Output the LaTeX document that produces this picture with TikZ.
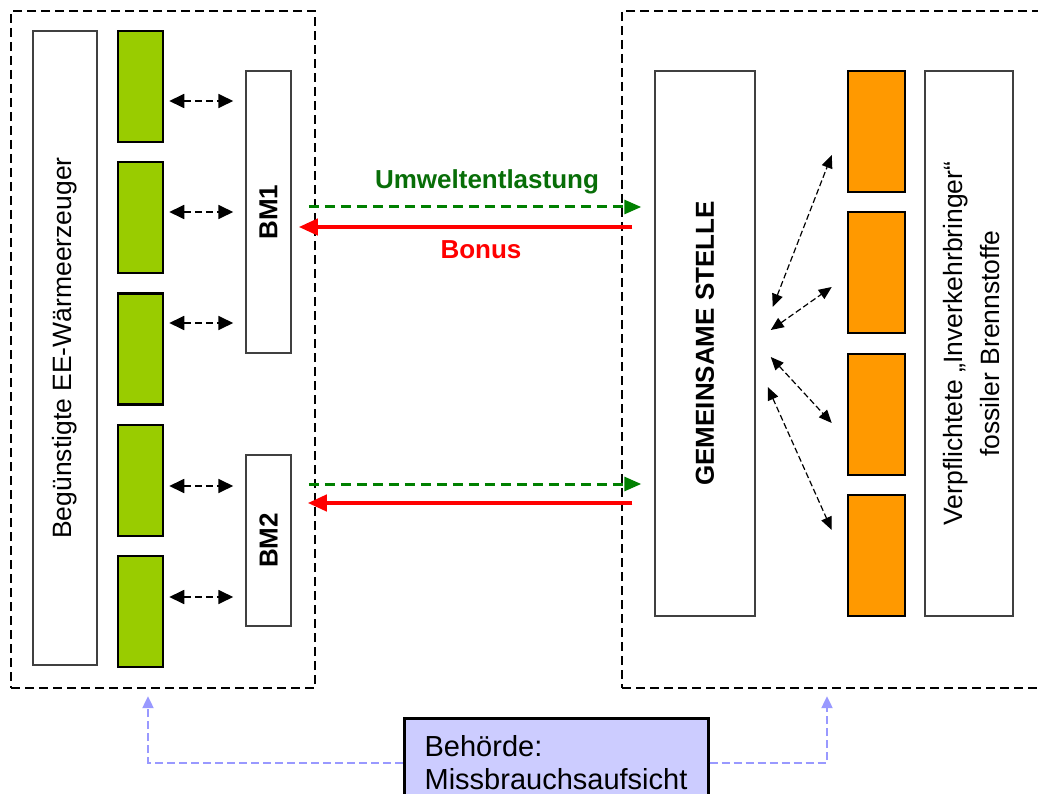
\documentclass[tikz,border=0pt]{standalone}
\usepackage{fontspec}
\usepackage{graphicx}
\setmainfont{Liberation Sans}
\usetikzlibrary{arrows.meta}

\definecolor{leafgreen}{HTML}{99CC00}
\definecolor{amber}{HTML}{FF9900}
\definecolor{boxgray}{HTML}{404040}
\definecolor{flowgreen}{HTML}{008000}
\definecolor{labelgreen}{HTML}{086E08}
\definecolor{lavfill}{HTML}{CCCCFF}
\definecolor{lavline}{HTML}{9999FF}

\newcommand{\bigtext}{\fontsize{26.5}{37}\selectfont}
\newcommand{\boldtext}{\bfseries\fontsize{26}{31}\selectfont}

\tikzset{
  group/.style={draw=black, line width=2.3pt, dash pattern=on 9pt off 5pt, inner sep=0pt},
  whitebox/.style={draw=boxgray, line width=1.5pt, fill=white, inner sep=0pt},
  producer/.style={draw=black, line width=2.5pt, fill=leafgreen, inner sep=0pt,
    minimum width=45pt, minimum height=111pt},
  supplier/.style={draw=black, line width=2.5pt, fill=amber, inner sep=0pt,
    minimum width=57pt, minimum height=121pt},
  linkarrow/.style={line width=1.8pt, dash pattern=on 7pt off 4pt,
    {Triangle[length=15pt,width=14pt]}-{Triangle[length=15pt,width=14pt]}},
  fanarrow/.style={line width=1.2pt, dash pattern=on 6pt off 3pt,
    {Triangle[length=13pt,width=11pt]}-{Triangle[length=13pt,width=11pt]}},
  envflow/.style={draw=flowgreen, line width=3pt, dash pattern=on 10pt off 6pt,
    -{Triangle[length=17pt,width=14pt]}},
  bonusflow/.style={draw=red, line width=4pt, -{Triangle[length=19pt,width=16pt]}},
  oversight/.style={draw=lavline, line width=2pt, dash pattern=on 8pt off 4pt,
    -{Triangle[length=12pt,width=11pt]}},
}

\begin{document}
\begin{tikzpicture}[x=1pt,y=-1pt]
\useasboundingbox (0,0) rectangle (1038,794);
\fill[white] (0,0) rectangle (1038,794);

% dashed frames of the two sides
\node[group, minimum width=304pt, minimum height=677pt] (lgrp) at (163,349.5) {};
\node[group, minimum width=438pt, minimum height=677pt] (rgrp) at (841,349.5) {};

% left side: producers and their Bonusmodelle
\node[whitebox, minimum width=64pt, minimum height=634pt] (prod) at (65,348)
  {\rotatebox{90}{\bigtext Begünstigte EE-Wärmeerzeuger}};
\node[producer] (g1) at (140.5,86.5) {};
\node[producer] (g2) at (140.5,217.5) {};
\node[producer] (g3) at (140.5,349) {};
\node[producer] (g4) at (140.5,480.5) {};
\node[producer] (g5) at (140.5,611.5) {};

\node[whitebox, minimum width=45pt, minimum height=282pt] (bm1) at (268.5,212)
  {\rotatebox{90}{\boldtext BM1}};
\node[whitebox, minimum width=45pt, minimum height=171pt] (bm2) at (268.5,540.5)
  {\rotatebox{90}{\boldtext BM2}};

\draw[linkarrow] ([shift={(5,14.5)}]g1.east) -- ([shift={(-12,-111)}]bm1.west);
\draw[linkarrow] ([shift={(5,-5.5)}]g2.east) -- ([shift={(-12,0)}]bm1.west);
\draw[linkarrow] ([shift={(5,-26)}]g3.east) -- ([shift={(-12,111)}]bm1.west);
\draw[linkarrow] ([shift={(5,5.5)}]g4.east) -- ([shift={(-12,-54.5)}]bm2.west);
\draw[linkarrow] ([shift={(5,-14.5)}]g5.east) -- ([shift={(-12,56.5)}]bm2.west);

% right side: joint office and obliged suppliers
\node[whitebox, minimum width=100pt, minimum height=545pt] (stelle) at (705,343.5)
  {\rotatebox{90}{\boldtext GEMEINSAME STELLE}};
\node[supplier] (o1) at (876.5,131.5) {};
\node[supplier] (o2) at (876.5,272.5) {};
\node[supplier] (o3) at (876.5,414.5) {};
\node[supplier] (o4) at (876.5,555.5) {};
\node[whitebox, minimum width=88pt, minimum height=545pt] (obl) at (969,343.5)
  {\hspace{10pt}\rotatebox{90}{\bigtext\begin{tabular}{@{}c@{}}Verpflichtete „Inverkehrbringer“\\ fossiler Brennstoffe\end{tabular}}};

\draw[fanarrow] ([shift={(17,-36.5)}]stelle.east) -- ([shift={(-15,23.5)}]o1.west);
\draw[fanarrow] ([shift={(15,-13.5)}]stelle.east) -- ([shift={(-15,14.5)}]o2.west);
\draw[fanarrow] ([shift={(15,13.5)}]stelle.east) -- ([shift={(-15,8.5)}]o3.west);
\draw[fanarrow] ([shift={(12,43.5)}]stelle.east) -- ([shift={(-15,-25.5)}]o4.west);

% flows between the Bonusmodelle and the joint office
\draw[envflow] ([shift={(17,-5)}]bm1.east) -- ([shift={(-13,-136.5)}]stelle.west);
\draw[bonusflow] ([shift={(-22,-116.5)}]stelle.west) -- ([shift={(7,15)}]bm1.east);
\draw[envflow] ([shift={(17,-56.5)}]bm2.east) -- ([shift={(-13,140.5)}]stelle.west);
\draw[bonusflow] ([shift={(-22,159.5)}]stelle.west) -- ([shift={(16,-37.5)}]bm2.east);

\node[text=labelgreen, font=\boldtext] (lbl1) at (487,182) {Umweltentlastung};
\node[text=red, font=\boldtext] (lbl2) at (481,250) {Bonus};

% supervising authority
\node[draw=black, line width=3pt, fill=lavfill, minimum width=304pt,
  inner xsep=16pt, inner ysep=17pt, align=left, anchor=north,
  font=\fontsize{29}{33}\selectfont] (beh) at (556,717)
  {Behörde:\\Missbrauchsaufsicht};

\draw[oversight] (beh.west) -| ([shift={(-15,7)}]lgrp.south);
\draw[oversight] (beh.east) -| ([shift={(-14,7)}]rgrp.south);
\end{tikzpicture}
\end{document}
